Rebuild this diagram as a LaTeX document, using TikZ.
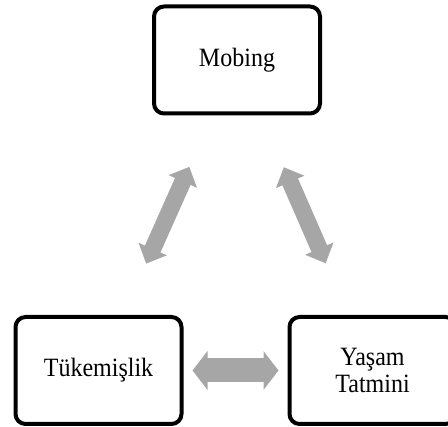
\documentclass[tikz,border=0pt]{standalone}
\usepackage{fontspec}
\setmainfont{Liberation Serif}
\usepackage{xcolor}
\usepackage{tikz}
\usetikzlibrary{positioning,arrows.meta}
\definecolor{arrowgray}{RGB}{166,166,166}
\newcommand\tallword[1]{\scalebox{1}[1.1]{#1}}

\begin{document}
\begin{tikzpicture}[x=1pt,y=1pt,
        box/.style={draw,line width=4pt,rounded corners=10pt,minimum width=166pt,minimum height=107pt,
                    outer sep=0pt,align=center,font=\fontsize{24}{27}\selectfont},
        diag/.style={draw=arrowgray,line width=17pt,{Triangle[length=16pt,width=30pt]}-{Triangle[length=16pt,width=30pt]},
                     shorten <=117pt,shorten >=117pt},
        flat/.style={draw=arrowgray,line width=24pt,{Triangle[length=15pt,width=38pt]}-{Triangle[length=15pt,width=38pt]},
                     shorten <=94pt,shorten >=94pt}]
                \useasboundingbox (0,0) rectangle (448,-427);
                \node[box] (mob) at (237,-60) {\tallword{Mobing}};
                \node[box] (tuk) at (98.5,-370.5) {\tallword{Tükemişlik}};
                \node[box] (yas) [right=108pt of tuk] {\tallword{Yaşam}\\\tallword{Tatmini}};
                \path
                    (tuk.center) edge[diag] (mob.center)
                    (yas.center) edge[diag] (mob.center)
                    (tuk.center) edge[flat] (yas.center);
            \end{tikzpicture}
\end{document}
